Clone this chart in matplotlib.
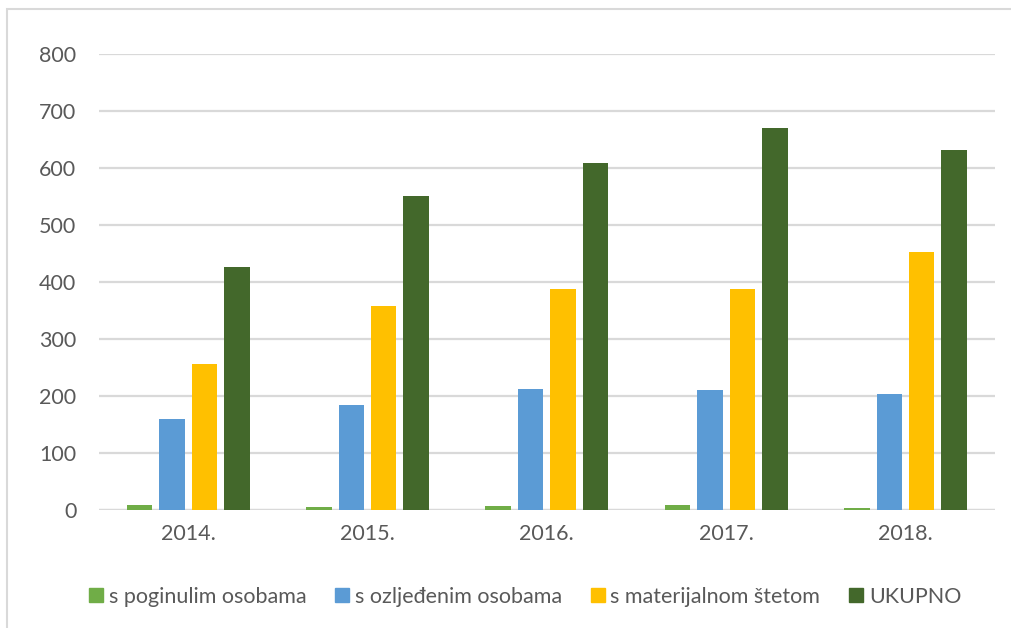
import matplotlib
matplotlib.use("Agg")
import matplotlib.pyplot as plt
import numpy as np
from matplotlib.patches import Rectangle
from matplotlib.lines import Line2D

years = ["2014.", "2015.", "2016.", "2017.", "2018."]
series_names = ["s poginulim osobama", "s ozljeđenim osobama",
                "s materijalnom štetom", "UKUPNO"]
poginulim = [8, 6, 7, 9, 4]
ozlijedenim = [159, 185, 212, 211, 203]
materijalnom = [256, 358, 387, 387, 453]
ukupno = [427, 551, 608, 670, 631]

colors = ["#70AD47", "#5B9BD5", "#FFC000", "#43682B"]
TEXT = "#595959"
GRID = "#D9D9D9"

plt.rcParams["font.family"] = ["Lato", "DejaVu Sans"]

fig = plt.figure(figsize=(10.11, 6.28), dpi=100)
ax = fig.add_axes([98.5 / 1011, 118 / 628, (995.2 - 98.5) / 1011, 456 / 628])

x = np.arange(len(years))
pitch = 0.181
width = 0.142
all_series = [poginulim, ozlijedenim, materijalnom, ukupno]
for i, (vals, col) in enumerate(zip(all_series, colors)):
    ax.bar(x + (i - 1.5) * pitch, vals, width, color=col, zorder=3,
           label=series_names[i])

ax.set_xlim(-0.5, len(years) - 0.5)
ax.set_ylim(0, 800)
ax.set_yticks(range(0, 801, 100))
ax.set_xticks(x)
ax.set_xticklabels(years)
ax.yaxis.grid(True, color=GRID, linewidth=1.6, zorder=0)
ax.xaxis.grid(False)
for s in ax.spines.values():
    s.set_visible(False)
ax.axhline(0, color=GRID, linewidth=1.6, zorder=2)
ax.tick_params(axis="both", length=0, labelsize=15.5, labelcolor=TEXT)
ax.tick_params(axis="y", pad=16)
ax.tick_params(axis="x", pad=10)

handles = [Line2D([0], [0], marker="s", linestyle="none", markersize=10.5,
                  markerfacecolor=c, markeredgecolor=c) for c in colors]
fig.legend(handles, series_names, loc="center", bbox_to_anchor=(0.518, 1 - 597 / 628),
           ncol=4, frameon=False, fontsize=15.5, labelcolor=TEXT,
           handletextpad=0.15, columnspacing=1.2, handlelength=0.9)

# chart area border (only top and left visible in the crop)
fig.add_artist(Rectangle((7 / 1011, -0.1), 1.2, 1 - 9 / 628 + 0.1,
                         transform=fig.transFigure, fill=False,
                         edgecolor=GRID, linewidth=1.5))

fig.savefig("out.png", dpi=100)
